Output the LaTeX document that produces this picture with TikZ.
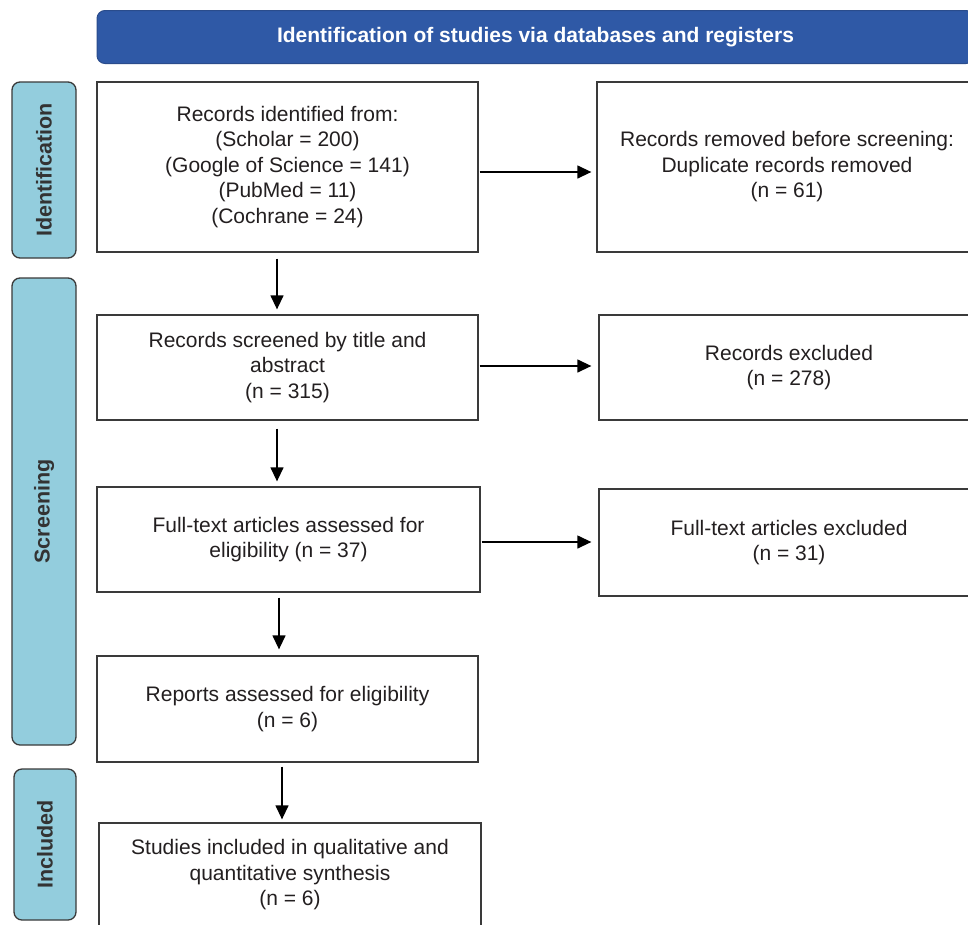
\documentclass[tikz,border=0pt]{standalone}
\usepackage{fontspec}
\setmainfont{Liberation Sans}
\usetikzlibrary{arrows.meta,positioning}
\definecolor{hdrblue}{HTML}{2F59A6}
\definecolor{hdredge}{HTML}{2A4C8C}
\definecolor{sideblue}{HTML}{93CDDD}
\definecolor{edgegray}{HTML}{3A3A3A}
\definecolor{txtgray}{HTML}{231F20}
\definecolor{labgray}{HTML}{333333}
\tikzset{
  box/.style={draw=edgegray, line width=1.3pt, fill=white, text=txtgray, align=center,
    inner sep=0pt, font=\fontsize{21}{25.5}\selectfont},
  sidebox/.style={draw=edgegray, line width=1.3pt, fill=sideblue, rounded corners=8pt,
    rotate=90, inner sep=0pt, text=labgray, font=\bfseries\fontsize{21.5}{25}\selectfont},
  hdrbox/.style={draw=hdredge, line width=1pt, fill=hdrblue, rounded corners=8pt,
    text=white, inner sep=0pt, font=\bfseries\fontsize{21}{25}\selectfont},
  arr/.style={draw=black, line width=1.3pt, -{Triangle[length=14pt,width=13pt]}}
}
\begin{document}
\begin{tikzpicture}[x=1pt,y=-1pt]
\useasboundingbox (0,0) rectangle (968,924);
\clip (0,0) rectangle (968,924);
\fill[white] (0,0) rectangle (968,924);

% header
\node[hdrbox, minimum width=877pt, minimum height=53pt] (hdr) at (535.5,37)
  {Identification of studies via databases and registers};

% side labels
\node[sidebox, minimum width=176pt, minimum height=64pt] (sid) at (44,170) {Identification};
\node[sidebox, minimum width=467pt, minimum height=64pt] (sscr) at (44,511.5) {Screening};
\node[sidebox, minimum width=151pt, minimum height=62pt] (sinc) at (45,844.5) {Included};

% boxes
\node[box, minimum width=381pt, minimum height=170pt] (b1) at (287.5,167)
  {Records identified from:\\(Scholar = 200)\\(Google of Science = 141)\\(PubMed = 11)\\(Cochrane = 24)};
\node[box, minimum width=380pt, minimum height=170pt] (b2) at (787,167)
  {Records removed before screening:\\Duplicate records removed\\(n = 61)};
\node[box, minimum width=381pt, minimum height=105pt] (b3) at (287.5,367.5)
  {Records screened by title and\\abstract\\(n = 315)};
\node[box, minimum width=380pt, minimum height=105pt] (b4) at (789,367.5)
  {Records excluded\\(n = 278)};
\node[box, minimum width=383pt, minimum height=105pt] (b5) at (288.5,539.5)
  {Full-text articles assessed for\\eligibility (n = 37)};
\node[box, minimum width=380pt, minimum height=107pt] (b6) at (789,542.5)
  {Full-text articles excluded\\(n = 31)};
\node[box, minimum width=381pt, minimum height=106pt] (b7) at (287.5,709)
  {Reports assessed for eligibility\\(n = 6)};
\node[box, minimum width=382pt, minimum height=104pt] (b8) at (290,875)
  {Studies included in qualitative and\\quantitative synthesis\\(n = 6)};

% arrow anchor coordinates
\coordinate (v1s) at ([xshift=-10.5pt,yshift=-6pt]b1.south);
\path (v1s |- b3.north) coordinate (v1e);
\coordinate (v2s) at ([xshift=-10.5pt,yshift=-8pt]b3.south);
\path (v2s |- b5.north) coordinate (v2e);
\coordinate (v3s) at ([xshift=-9.5pt,yshift=-5pt]b5.south);
\path (v3s |- b7.north) coordinate (v3e);
\coordinate (v4s) at ([xshift=-5.5pt,yshift=-4pt]b7.south);
\path (v4s |- b8.north) coordinate (v4e);
\coordinate (h1s) at ([xshift=1pt,yshift=-5pt]b1.east);
\path (h1s -| b2.west) coordinate (h1e);
\coordinate (h2s) at ([xshift=1pt,yshift=1.5pt]b3.east);
\path (h2s -| b4.west) coordinate (h2e);
\coordinate (h3s) at ([xshift=1pt,yshift=-2.5pt]b5.east);
\path (h3s -| b6.west) coordinate (h3e);

% vertical arrows
\draw[arr] (v1s) -- ([yshift=5pt]v1e);
\draw[arr] (v2s) -- ([yshift=5pt]v2e);
\draw[arr] (v3s) -- ([yshift=6pt]v3e);
\draw[arr] (v4s) -- ([yshift=3pt]v4e);

% horizontal arrows
\draw[arr] (h1s) -- ([xshift=-5pt]h1e);
\draw[arr] (h2s) -- ([xshift=-7pt]h2e);
\draw[arr] (h3s) -- ([xshift=-7pt]h3e);
\end{tikzpicture}
\end{document}
